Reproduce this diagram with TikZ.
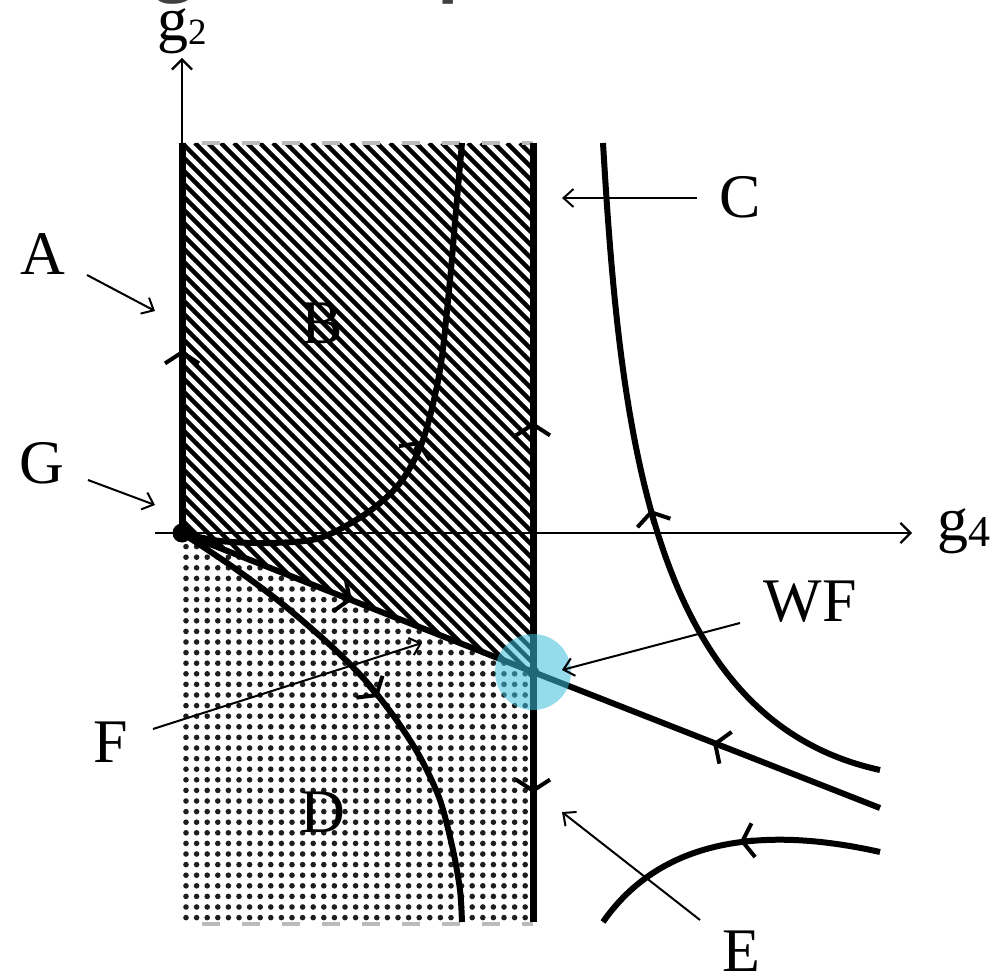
\documentclass[tikz,border=0pt]{standalone}
\usepackage{fontspec}
\setmainfont{Liberation Serif}
\newfontfamily\headfont{Open Sans}
\usetikzlibrary{arrows.meta}
\definecolor{dotc}{HTML}{1E1E1E}
\definecolor{dashc}{HTML}{BBBBBB}
\definecolor{wfc}{RGB}{60,190,220}
\begin{document}
\begin{tikzpicture}[x=1pt,y=-1pt,
  thickline/.style={line width=7pt},
  flowcurve/.style={line width=6pt},
  pointer/.style={line width=2pt,-{Straight Barb[length=10pt,width=18pt,line width=2pt]}},
  axisline/.style={line width=2.2pt,-{Straight Barb[length=10pt,width=20pt,line width=2.2pt]}},
  flowtip/.style={line width=5pt,-{Straight Barb[length=11pt,width=34pt,line width=4pt]}},
  lbl/.style={inner sep=0pt, font=\fontsize{62}{62}\selectfont},
  frag/.style={inner sep=0pt, text=black!75, font=\headfont\bfseries\fontsize{70}{70}\selectfont},
]
\useasboundingbox (0,0) rectangle (996,976);

% cut-off heading fragments
\begin{scope}
\clip (0,0) rectangle (996,6);
\node[frag, anchor=base] (hg) at (175,-12) {g};
\node[frag, anchor=base west] (hp) at (437,-12) {p};
\end{scope}

% key points
\coordinate (G) at (182,533);
\coordinate (WF) at (533,672);

% hatched region B
\begin{scope}
\clip (182,143) -- (533,143) -- (533,672) -- (182,533) -- cycle;
\foreach \k in {0,...,58} \draw[line width=4.3pt] ({-208+13*\k},143) -- ++(560,560);
\end{scope}

% dotted region D
\begin{scope}
\clip (182,533) -- (533,672) -- (533,922) -- (182,922) -- cycle;
\foreach \i in {0,...,33} \foreach \j in {0,...,36}
  \fill[dotc] ({186+10.6*\i},{536+10.6*\j}) circle (2.8pt);
\end{scope}

% gray dashed edges
\draw[dashc, line width=4pt, dash pattern=on 18pt off 22pt] (202,143) -- (533,143);
\draw[dashc, line width=4pt, dash pattern=on 18pt off 22pt] (202,924) -- (533,924);

% axes
\coordinate (g2top) at (182,58);
\coordinate (g4end) at (912,533);
\coordinate (g4start) at (155,533);
\draw[axisline] (G) -- (g2top);
\draw[axisline] (g4start) -- (g4end);

% thick vertical lines
\draw[thickline] (182,143) -- (G);
\draw[thickline] (533,143) -- (533,922);

% trajectories
\draw[flowcurve] plot[smooth] coordinates {(182,533) (220,541) (270,543) (320,538) (367,513) (400,483) (423,440) (440,370) (450,280) (456,210) (462,143)};
\draw[flowcurve] (G) -- (WF) -- (880,808);
\draw[flowcurve] plot[smooth] coordinates {(182,533) (230,565) (280,602) (330,645) (365,680) (395,718) (420,757) (440,800) (453,850) (460,890) (462,922)};
\draw[flowcurve] (603,143) .. controls (620,430) and (650,720) .. (880,770);
\draw[flowcurve] (603,922) .. controls (660,840) and (760,825) .. (880,852);

% flow direction markers
\draw[flowtip] (182,364) -- (182,350);
\draw[flowtip] (533,436) -- (533,422);
\draw[flowtip] (533,779) -- (533,793);
\draw[flowtip] (414,454) -- (420,441);
\draw[flowtip] (339,595.2) -- (352,600.3);
\draw[flowtip] (368,685) -- (378,697);
\draw[flowtip] (726,748) -- (713,743);
\draw[flowtip] (654,523.5) -- (650.5,510);
\draw[flowtip] (753,840.2) -- (740,841.6);

% fixed points
\fill (G) circle (9.5pt);
\fill (WF) circle (6pt);
\fill[wfc, opacity=0.55] (WF) circle (38pt);

% labels
\node[lbl, anchor=base west] (lg2) at (157,41) {g\raisebox{-4pt}{\fontsize{37}{37}\selectfont 2}};
\node[lbl, anchor=base west] (lg4) at (937,540) {g\raisebox{-6pt}{\fontsize{44}{44}\selectfont 4}};
\node[lbl] (A) at (43,254) {A};
\node[lbl] (Gl) at (42,463) {G};
\node[lbl] (B) at (322,323) {B};
\node[lbl] (C) at (740,197) {C};
\node[lbl] (D) at (323,812) {D};
\node[lbl] (E) at (741,951) {E};
\node[lbl] (F) at (111,742) {F};
\node[lbl] (WFl) at (810,602) {WF};

% pointer arrows
\coordinate (a1) at (87,275);   \coordinate (a2) at (155,311);
\coordinate (g1) at (88,480);   \coordinate (g2p) at (155,505);
\coordinate (c1) at (697,198);  \coordinate (c2) at (562,198);
\coordinate (w1) at (740,623);  \coordinate (w2) at (562,670);
\coordinate (f1) at (153,729);  \coordinate (f2) at (422,643);
\coordinate (e1) at (700,920);  \coordinate (e2) at (562,812);
\draw[pointer] (a1) -- (a2);
\draw[pointer] (g1) -- (g2p);
\draw[pointer] (c1) -- (c2);
\draw[pointer] (w1) -- (w2);
\draw[pointer] (f1) -- (f2);
\draw[pointer] (e1) -- (e2);
\end{tikzpicture}
\end{document}
